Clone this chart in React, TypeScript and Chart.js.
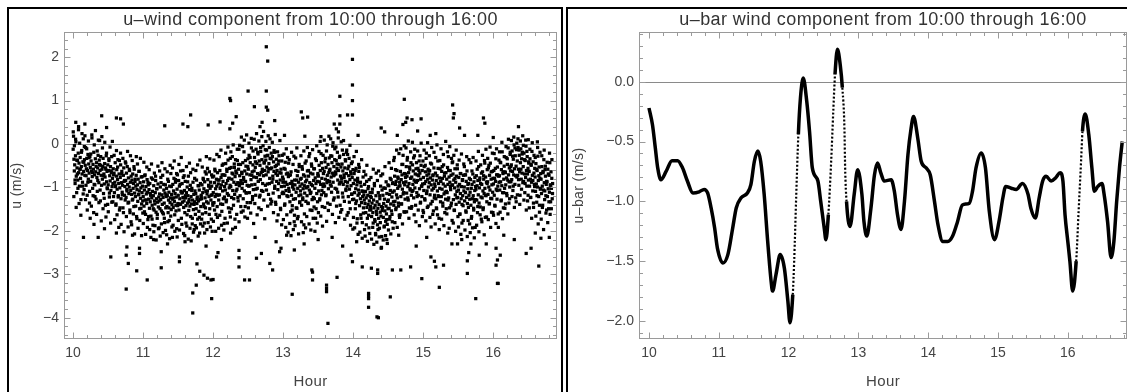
import React, { useEffect, useRef } from "react";
import { Chart, registerables } from "chart.js";

Chart.register(...registerables);

const FONT = '"Liberation Sans", Arial, Helvetica, sans-serif';

// ---------------- data: u-wind samples (m/s), evenly spaced within each block ----------------
const SEG_START = [10, 11, 12, 13, 14, 15, 16];
const SEG_END = [11, 12, 13, 14, 15, 16, 16.85];

// first pass of samples
const u10 = [
  -0.12, 0.18, -0.35, -0.62, -0.48, -0.91, -0.27, 0.05, -0.74, -1.12, -0.55, -0.38, -0.83, -0.21, -0.66,
  -0.44, -0.97, -0.58, -0.31, -0.79, -1.28, -0.52, -0.15, -0.69, -0.88, -0.41, 0.12, -0.63, -1.05, -0.36,
  -0.72, -0.49, -0.08, -0.95, -0.57, -0.33, -1.18, -0.61, -0.24, -0.81, -0.46, -0.67, -1.36, -0.29, -0.54,
  -0.86, -0.39, -0.62, 0.21, -0.75, -1.02, -0.47, -0.58, -0.19, -0.93, -0.71, -1.21, -0.34, -0.64, -0.52,
  -0.43, -0.77, -1.09, -0.55, -0.26, -0.68, -0.89, -0.37, 0.08, -0.61, -1.31, -0.49, -0.72, -0.95, -0.58,
  -0.81, -0.52, -0.33, -1.14, -0.69, -0.92, -0.45, -0.76, -1.41, -0.58, -0.27, -0.87, -0.63, -1.03, -0.48,
  -0.94, -0.61, -0.38, -1.22, -0.73, -0.85, -0.52, -1.07, -0.66, -0.29, -0.98, -0.79, -1.33, -0.57, -0.71,
  -0.67, -1.12, -0.88, -0.43, -0.96, -1.38, -0.74, -0.59, -1.04, -0.82, -0.36, -1.19, -0.91, -0.69, -1.52,
  -1.01, -0.77, -0.48, -1.26, -0.89, -0.63, -1.11, -0.95, -1.47, -0.72, -0.55, -0.86, -1.18, -0.98, -0.41,
  -0.84, -1.23, -0.67, -1.05, -0.52, -0.93, -1.36, -0.78, -1.14, -0.99, -0.61, -1.58, -0.88, -1.07, -0.74,
  -1.16, -0.83, -1.29, -0.69, -1.02, -0.91, -1.44, -0.58, -1.13, -0.86, -1.21, -0.97, -0.72, -1.67, -1.05,
  -0.94, -1.32, -0.81, -1.17, -0.63, -1.08, -1.49, -0.89, -1.25, -1.01, -0.76, -1.38, -1.12, -0.97, -1.59,
];
const u11 = [
  -1.21, -0.87, -1.43, -1.06, -0.73, -1.29, -1.62, -0.98, -1.15, -1.37, -0.82, -1.11, -1.74, -0.94, -1.27,
  -1.05, -1.48, -0.91, -1.33, -1.18, -1.66, -0.78, -1.24, -1.41, -1.09, -1.87, -1.19, -0.96, -1.52, -1.31,
  -1.38, -1.12, -0.84, -1.57, -1.26, -1.03, -1.71, -1.34, -0.92, -1.45, -1.22, -1.93, -1.15, -1.49, -0.99,
  -1.28, -0.89, -1.54, -1.17, -1.39, -0.72, -1.23, -1.61, -1.06, -1.36, -1.81, -1.13, -0.94, -1.47, -1.21,
  -1.02, -1.44, -1.19, -0.81, -1.58, -1.29, -1.11, -1.76, -0.97, -1.35, -1.24, -0.68, -1.51, -1.16, -1.39,
  -1.27, -0.93, -1.46, -1.08, -0.79, -1.32, -1.63, -1.14, -0.88, -1.41, -1.22, -1.95, -1.04, -0.71, -1.37,
  -1.18, -0.84, -1.52, -0.97, -1.26, -1.39, -0.62, -1.09, -1.71, -1.13, -0.91, -1.34, -1.23, -0.77, -1.46,
  -1.31, -1.07, -1.58, -0.86, -1.24, -1.42, -1.12, -1.89, -0.99, -1.36, -1.19, -0.74, -1.53, -1.28, -1.05,
  -1.43, -0.95, -1.67, -1.21, -1.38, -1.02, -1.84, -1.29, -0.88, -1.51, -1.16, -1.97, -1.33, -1.08, -1.62,
  -1.14, -1.49, -0.83, -1.37, -1.22, -1.73, -0.96, -1.31, -1.55, -1.06, -2.05, -1.27, -0.91, -1.44, -1.18,
  -1.26, -0.94, -1.61, -1.12, -0.79, -1.38, -1.03, -1.82, -0.87, -1.24, -1.47, -1.09, -0.69, -1.33, -1.15,
  -1.08, -0.82, -1.36, -0.95, -1.21, -0.64, -1.49, -1.02, -0.88, -1.29, -1.73, -0.97, -1.17, -0.76, -1.41,
];
const u12 = [
  -1.12, -0.74, -1.35, -0.89, -0.58, -1.21, -1.03, -1.62, -0.81, -0.97, -1.44, -0.66, -1.18, -0.92, -1.29,
  -0.83, -1.17, -0.61, -1.02, -1.38, -0.77, -0.94, -1.55, -0.49, -1.08, -0.86, -1.26, -0.71, -1.83, -0.98,
  -0.72, -1.06, -0.45, -0.91, -1.29, -0.63, -1.14, -0.84, -0.37, -1.47, -0.79, -1.01, -0.56, -0.95, -1.68,
  -0.98, -0.54, -1.23, -0.81, -0.29, -1.07, -0.69, -1.41, -0.88, -0.46, -1.16, -0.75, -1.92, -0.62, -0.93,
  -0.67, -1.04, -0.38, -0.89, -1.31, -0.58, -0.12, -0.96, -0.73, -1.19, -0.47, -0.84, -1.57, -0.65, -1.02,
  -0.91, -0.43, -1.26, -0.77, -0.18, -1.08, -0.62, -1.44, -0.86, -0.51, -1.13, -0.69, -0.95, -1.71, -0.34,
  -0.58, -0.97, -0.26, -1.12, -0.71, -0.43, -1.35, -0.82, -0.09, -0.94, -0.64, -1.21, -0.48, -1.05, -0.76,
  -0.62, -0.31, -0.93, -0.54, -1.18, -0.12, -0.77, -0.45, -1.02, -0.68, -0.23, -0.86, -1.47, -0.39, -0.71,
  -0.49, -0.82, -0.17, -0.66, -1.07, -0.36, -0.58, -0.91, -0.04, -0.73, -1.29, -0.42, -0.61, -0.28, -0.95,
  -0.37, -0.71, -0.14, -0.53, -0.92, -0.26, -0.64, -1.16, -0.45, -0.08, -0.79, -0.33, -0.57, -1.38, -0.21,
  -0.55, -0.88, -0.29, -0.74, -1.13, -0.41, -0.63, -0.19, -0.97, -0.52, -1.34, -0.68, -0.35, -0.86, -0.61,
  -0.72, -1.05, -0.46, -0.91, -0.27, -1.22, -0.66, -0.83, -1.51, -0.58, -0.98, -0.39, -1.14, -0.76, -0.88,
];
const u13 = [
  -0.81, -1.14, -0.56, -0.97, -1.38, -0.42, -0.88, -1.07, -0.69, -1.63, -0.93, -0.31, -1.21, -0.75, -1.02,
  -1.09, -0.72, -1.33, -0.91, -1.56, -0.64, -1.18, -0.86, -1.42, -0.99, -0.47, -1.27, -1.04, -1.79, -0.83,
  -0.94, -1.26, -0.61, -1.11, -0.83, -1.48, -0.73, -1.02, -1.67, -0.88, -1.19, -0.52, -1.35, -0.97, -1.08,
  -1.17, -0.79, -1.41, -0.92, -0.58, -1.24, -1.03, -0.71, -1.86, -0.96, -1.13, -0.44, -0.87, -1.32, -1.01,
  -0.83, -1.19, -0.62, -0.98, -1.37, -0.74, -0.29, -1.06, -0.89, -1.52, -0.67, -1.11, -0.93, -0.51, -1.28,
  -0.96, -0.69, -1.23, -0.84, -1.45, -0.57, -1.02, -0.78, -1.71, -0.91, -0.38, -1.14, -0.86, -1.33, -0.72,
  -0.74, -1.08, -0.49, -0.87, -1.26, -0.61, -0.93, -0.22, -1.17, -0.79, -1.44, -0.56, -0.98, -0.68, -1.12,
  -0.63, -0.97, -0.41, -0.81, -1.19, -0.54, -0.16, -0.89, -0.72, -1.36, -0.47, -1.03, -0.66, -0.32, -0.86,
  -0.58, -0.94, -0.27, -0.76, -1.11, -0.43, -0.67, -0.05, -0.88, -1.29, -0.52, -0.71, -0.36, -1.02, -0.64,
  -0.69, -0.38, -1.04, -0.56, -0.19, -0.83, -1.22, -0.61, -0.47, -0.92, -0.28, -1.41, -0.74, -0.53, -0.87,
  -0.79, -0.46, -1.13, -0.62, -0.93, -0.24, -0.71, -1.32, -0.55, -0.86, -0.39, -1.07, -0.68, -0.14, -0.97,
  -0.88, -0.57, -1.21, -0.73, -0.33, -1.04, -0.82, -1.49, -0.64, -0.96, -0.45, -1.15, -0.77, -1.28, -0.59,
];
const u14 = [
  -0.91, -1.27, -0.68, -1.12, -0.83, -1.49, -1.03, -0.56, -1.31, -0.94, -1.72, -0.79, -1.18, -1.06, -0.63,
  -1.14, -1.42, -0.89, -1.26, -1.63, -0.97, -1.35, -1.08, -1.81, -1.21, -0.76, -1.47, -1.17, -1.29, -0.93,
  -1.37, -1.09, -1.58, -1.24, -0.86, -1.46, -1.71, -1.18, -1.39, -0.98, -1.93, -1.31, -1.52, -1.12, -1.44,
  -1.51, -1.23, -1.67, -1.36, -1.04, -1.58, -1.82, -1.29, -1.47, -0.91, -1.74, -1.41, -2.06, -1.19, -1.55,
  -1.62, -1.33, -1.86, -1.48, -1.12, -1.71, -1.39, -1.94, -1.26, -1.57, -0.97, -1.66, -1.44, -2.13, -1.53,
  -1.46, -1.18, -1.69, -1.37, -1.91, -1.27, -1.54, -1.02, -1.78, -1.43, -1.61, -1.14, -1.85, -1.32, -1.49,
  -1.29, -0.96, -1.48, -1.16, -1.67, -1.07, -1.38, -0.82, -1.54, -1.22, -1.79, -1.11, -0.89, -1.33, -1.41,
  -1.08, -0.74, -1.32, -0.93, -1.51, -0.86, -1.17, -0.61, -1.24, -1.02, -0.79, -1.43, -0.97, -1.64, -0.88,
  -0.96, -0.63, -1.21, -0.82, -1.38, -0.71, -1.04, -0.47, -1.15, -0.89, -1.56, -0.68, -0.94, -1.27, -0.77,
  -0.87, -0.52, -1.13, -0.74, -0.31, -0.98, -1.29, -0.66, -0.91, -1.47, -0.58, -1.06, -0.79, -0.43, -1.18,
  -0.76, -1.09, -0.48, -0.93, -0.62, -1.24, -0.83, -0.27, -1.01, -0.69, -1.41, -0.57, -0.88, -1.12, -0.71,
  -0.84, -0.56, -1.18, -0.73, -0.39, -1.03, -0.67, -1.36, -0.81, -0.49, -0.97, -1.21, -0.61, -0.92, -1.53,
];
const u15 = [
  -0.77, -1.07, -0.52, -0.91, -1.29, -0.64, -0.86, -0.33, -1.14, -0.72, -1.46, -0.81, -0.58, -0.99, -0.69,
  -0.89, -0.61, -1.17, -0.78, -1.38, -0.94, -0.46, -1.06, -0.83, -1.62, -0.71, -1.02, -0.55, -1.24, -0.92,
  -0.98, -0.67, -1.26, -0.84, -1.49, -0.73, -1.08, -0.39, -1.19, -0.91, -1.71, -0.78, -1.02, -0.57, -1.33,
  -0.86, -1.21, -0.63, -1.04, -0.79, -1.43, -0.92, -0.48, -1.15, -0.74, -1.58, -0.97, -1.27, -0.66, -1.09,
  -0.81, -1.12, -0.54, -0.93, -0.29, -1.24, -0.76, -1.47, -0.88, -0.61, -1.05, -0.72, -1.36, -0.95, -0.43,
  -0.94, -0.69, -1.28, -0.83, -1.52, -1.01, -0.57, -1.17, -0.88, -1.39, -0.74, -1.09, -0.48, -1.23, -0.97,
  -1.06, -0.77, -1.34, -0.93, -1.61, -1.14, -0.68, -1.26, -0.98, -1.82, -0.84, -1.19, -1.42, -0.72, -1.08,
  -0.99, -1.31, -0.71, -1.12, -1.54, -0.86, -1.23, -0.62, -1.37, -1.03, -1.76, -0.91, -1.18, -0.79, -1.27,
  -1.11, -0.82, -1.41, -1.02, -1.67, -0.93, -1.26, -0.69, -1.19, -1.48, -0.87, -1.33, -1.07, -1.92, -0.98,
  -1.04, -0.73, -1.29, -0.96, -1.58, -0.84, -1.17, -0.52, -1.36, -1.01, -0.78, -1.45, -0.91, -1.22, -0.67,
  -0.93, -1.24, -0.64, -1.08, -1.47, -0.81, -1.14, -0.38, -1.02, -1.69, -0.76, -1.19, -0.88, -1.33, -0.59,
  -0.87, -1.16, -0.55, -0.99, -1.38, -0.72, -1.06, -0.44, -1.25, -0.81, -1.57, -0.94, -0.63, -1.11, -0.79,
];
const u16 = [
  -0.92, -0.61, -1.18, -0.79, -1.43, -0.86, -0.34, -1.04, -0.71, -1.27, -0.53, -0.97, -1.61, -0.74, -0.88,
  -0.73, -1.06, -0.42, -0.87, -1.31, -0.59, -0.96, -0.18, -1.12, -0.68, -1.47, -0.81, -0.51, -1.02, -0.64,
  -0.66, -0.94, -0.31, -0.78, -1.19, -0.47, -0.83, -0.09, -0.71, -1.36, -0.55, -0.99, -0.24, -0.62, -0.87,
  -0.48, -0.82, -0.16, -0.63, -1.07, -0.35, -0.71, -0.02, -0.57, -0.93, -0.27, -1.24, -0.51, -0.13, -0.76,
  -0.39, -0.72, -0.08, -0.58, -0.95, -0.26, -0.64, -1.18, -0.43, -0.11, -0.81, -0.34, -0.67, -0.19, -0.89,
  -0.52, -0.86, -0.21, -0.69, -1.12, -0.38, -0.77, -0.05, -0.61, -0.97, -0.29, -1.31, -0.56, -0.83, -0.44,
  -0.63, -0.97, -0.34, -0.81, -1.23, -0.49, -0.88, -0.17, -0.72, -1.08, -0.41, -1.46, -0.67, -0.93, -0.56,
  -0.76, -1.09, -0.45, -0.92, -1.34, -0.61, -0.99, -0.28, -0.84, -1.21, -0.53, -1.57, -0.79, -1.04, -0.68,
  -0.81, -1.14, -0.52, -0.97, -1.41, -0.66, -1.06, -0.36, -0.89, -1.28, -0.59, -0.74, -1.19, -0.93, -1.52,
  -0.87, -1.21, -0.58, -1.03, -1.49, -0.72, -1.11, -0.43, -0.95, -1.33, -0.64, -1.02, -0.79, -1.26, -0.91,
];

// second pass of samples (wider spread)
const v10 = [
  0.28, -1.21, -0.04, -0.83, 0.11, -1.46, -0.37, -0.69, -1.02, 0.33,
  -1.37, 0.02, -0.58, -1.64, -0.19, 0.24, -0.97, -1.15, -0.42, -0.06,
  0.19, -1.28, -0.73, -0.11, -1.52, -0.88, 0.07, -0.31, -1.09, -1.71,
  -0.23, -1.43, 0.14, -0.66, -1.19, -1.58, -0.02, -0.94, 0.31, -1.27,
  -1.62, -0.16, -0.84, 0.09, -1.35, -0.47, -1.06, -0.29, -1.77, 0.17,
  -0.09, -1.49, -0.73, -1.25, 0.04, -0.55, -1.68, -0.21, -1.01, -1.39,
  -1.56, -0.34, -1.13, -0.07, -1.82, -0.62, -1.34, 0.06, -0.91, -1.21,
  -0.26, -1.74, -0.98, -1.41, -0.15, -1.63, -0.53, -1.22, -1.92, -0.38,
  -1.47, -0.21, -1.85, -0.69, -1.17, -0.33, -1.58, -2.02, -0.84, -1.29,
  -0.44, -1.67, -1.08, -0.17, -1.91, -1.34, -0.58, -1.52, -0.27, -1.79,
  -1.86, -0.38, -1.27, -1.61, -0.52, -2.07, -0.81, -1.43, -0.29, -1.72,
  -0.46, -1.94, -1.16, -0.63, -1.76, -0.33, -1.48, -2.11, -0.75, -1.31,
];
const v11 = [
  -1.83, -0.42, -1.56, -0.71, -2.08, -1.29, -0.53, -1.92, -0.88, -1.67,
  -0.59, -1.97, -1.14, -2.15, -0.46, -1.73, -0.81, -1.49, -2.02, -0.67,
  -1.88, -0.74, -2.21, -1.03, -1.62, -0.51, -1.95, -1.31, -0.62, -2.12,
  -0.77, -1.84, -0.43, -1.58, -2.04, -0.93, -1.71, -0.57, -1.99, -1.17,
  -2.09, -0.64, -1.79, -0.86, -1.47, -2.18, -0.49, -1.66, -0.98, -1.91,
  -0.55, -1.87, -1.24, -0.39, -2.01, -0.82, -1.54, -0.68, -2.14, -1.42,
  -1.76, -0.47, -1.98, -0.93, -1.38, -0.31, -1.85, -1.11, -0.61, -2.06,
  -0.73, -2.11, -1.19, -1.82, -0.52, -1.63, -0.87, -2.19, -1.33, -0.44,
  -1.94, -0.66, -2.23, -1.07, -1.71, -0.58, -2.03, -1.39, -0.79, -1.88,
  -0.61, -1.93, -1.27, -0.48, -2.12, -0.96, -1.69, -0.37, -1.84, -1.21,
  -1.73, -0.53, -1.89, -0.82, -1.44, -2.05, -0.64, -1.58, -0.29, -1.97,
  -0.56, -1.81, -0.97, -1.62, -0.34, -1.91, -1.18, -0.71, -2.01, -1.36,
];
const v12 = [
  -1.78, -0.37, -1.52, -0.62, -2.01, -1.16, -0.24, -1.69, -0.83, -1.94,
  -0.29, -1.64, -1.01, -0.14, -1.87, -0.71, -1.39, -0.46, -1.98, -1.22,
  -1.71, -0.21, -1.33, -0.58, -1.82, -0.07, -1.18, -0.79, -1.57, -0.33,
  -0.18, -1.49, -0.67, -1.96, -0.02, -1.26, -0.54, -1.73, -0.36, -1.08,
  -1.62, -0.12, -1.23, -0.47, -1.79, -0.03, -0.91, -1.44, 0.16, -0.68,
  -0.06, -1.54, -0.83, 0.09, -1.68, -0.38, -1.12, 0.21, -1.35, -0.52,
  -1.47, 0.02, -0.96, -0.31, -1.59, 0.13, -0.72, -1.28, -0.16, -1.83,
  0.11, -1.37, -0.41, -1.04, 0.24, -1.63, -0.19, -0.86, 0.07, -1.22,
  -1.18, -0.08, -1.51, 0.17, -0.63, -1.09, 0.29, -0.44, -1.72, -0.13,
  0.06, -1.06, -0.27, -1.43, 0.19, -0.57, -0.91, 0.12, -1.27, -0.34,
  -1.32, 0.04, -0.81, -1.58, -0.15, -1.02, 0.22, -1.39, -0.49, -1.77,
  -0.18, -1.63, -0.39, -1.21, 0.08, -1.48, -0.67, -1.86, -0.26, -1.11,
];
const v13 = [
  -1.74, -0.23, -1.41, -0.58, -1.92, -0.11, -1.19, -0.67, -2.03, -0.44,
  -0.36, -1.83, -0.71, -2.11, -0.19, -1.52, -0.93, -1.97, -0.28, -1.64,
  -1.88, -0.32, -1.47, -0.09, -1.72, -0.63, -2.07, -0.47, -1.33, -0.81,
  -0.27, -1.79, -0.52, -1.28, -2.04, -0.16, -1.61, -0.74, -1.93, -0.39,
  -1.67, -0.08, -1.36, -0.61, -1.84, -0.22, -1.14, -1.98, -0.46, -1.53,
  -0.13, -1.71, -0.57, -1.26, -2.01, -0.34, -1.49, -0.04, -1.82, -0.68,
  -1.58, -0.17, -1.29, 0.06, -1.66, -0.43, -1.07, -1.89, -0.26, -0.92,
  0.09, -1.46, -0.33, -1.17, -1.78, -0.02, -0.84, -1.53, 0.18, -0.61,
  -1.39, 0.12, -0.97, -0.28, -1.62, 0.03, -0.73, -1.24, -0.11, -1.81,
  -0.07, -1.43, -0.46, -1.11, 0.14, -1.69, -0.31, -0.89, -1.57, 0.05,
  -1.51, -0.14, -1.22, 0.08, -0.77, -1.73, -0.36, -1.04, -0.19, -1.64,
  -0.24, -1.58, -0.51, -1.34, -0.03, -1.87, -0.69, -1.16, -0.41, -1.96,
];
const v14 = [
  -1.69, -0.29, -1.93, -0.61, -1.37, -0.17, -1.82, -0.86, -2.08, -0.47,
  -0.54, -2.03, -0.88, -1.71, -0.36, -2.17, -1.09, -1.59, -0.63, -1.97,
  -2.12, -0.71, -1.86, -0.49, -2.24, -1.03, -1.64, -0.82, -2.06, -1.21,
  -0.77, -2.19, -1.12, -1.92, -0.58, -2.31, -0.96, -1.78, -2.09, -0.67,
  -2.26, -0.84, -1.97, -0.62, -2.14, -1.19, -1.81, -0.73, -2.38, -1.06,
  -0.69, -2.21, -1.01, -1.89, -0.52, -2.11, -0.87, -1.74, -2.29, -0.94,
  -1.98, -0.43, -1.73, -0.79, -2.07, -0.56, -1.62, -0.91, -1.94, -0.38,
  -0.31, -1.81, -0.59, -1.47, -0.14, -1.92, -0.76, -1.36, -0.22, -1.69,
  -1.63, -0.11, -1.38, -0.47, -1.84, -0.26, -1.12, -0.04, -1.57, -0.69,
  -0.09, -1.56, -0.37, -1.24, 0.07, -1.71, -0.53, -1.03, -0.18, -1.48,
  -1.44, 0.04, -1.07, -0.32, -1.63, -0.12, -0.86, -1.79, -0.43, -1.21,
  -0.16, -1.52, -0.61, -1.88, -0.27, -1.34, 0.02, -0.97, -1.67, -0.39,
];
const v15 = [
  -1.58, -0.14, -1.26, -0.49, -1.77, -0.21, -1.08, 0.03, -1.43, -0.62,
  -0.27, -1.69, -0.44, -1.91, -0.08, -1.32, -0.73, -1.54, -0.19, -1.18,
  -1.84, -0.31, -1.47, -0.02, -1.63, -0.56, -1.21, -1.97, -0.38, -0.86,
  -0.11, -1.73, -0.52, -1.36, -0.24, -1.88, -0.67, -1.11, 0.06, -1.49,
  -1.61, -0.18, -1.29, -0.61, -1.94, -0.06, -0.98, -1.42, -0.33, -1.76,
  -0.41, -1.82, -0.26, -1.53, -0.79, -2.01, -0.14, -1.24, -0.57, -1.67,
  -1.91, -0.37, -1.62, -0.68, -2.08, -0.23, -1.39, -0.82, -1.76, -0.46,
  -0.52, -1.98, -0.71, -1.57, -0.29, -2.13, -0.93, -1.46, -0.36, -1.84,
  -2.04, -0.43, -1.71, -0.62, -1.93, -0.31, -1.52, -2.16, -0.77, -1.28,
  -0.39, -1.87, -0.58, -1.44, -0.17, -2.02, -0.83, -1.63, -0.48, -1.73,
  -1.79, -0.26, -1.51, -0.73, -2.09, -0.44, -1.18, -0.12, -1.68, -0.91,
  -0.33, -1.74, -0.49, -1.37, -0.07, -1.92, -0.64, -1.26, -0.21, -1.58,
];
const v16 = [
  -1.64, -0.22, -1.41, -0.56, -1.83, -0.11, -1.07, -0.71, -1.92, -0.37,
  -0.18, -1.57, -0.43, -1.29, 0.04, -1.72, -0.64, -1.12, -0.29, -1.48,
  -1.38, -0.06, -1.14, -0.34, -1.61, 0.11, -0.87, -1.26, -0.19, -0.52,
  0.08, -1.21, -0.28, -0.97, 0.16, -1.46, -0.09, -0.73, -1.33, 0.02,
  -1.17, 0.12, -0.82, -0.14, -1.39, 0.07, -0.58, -1.04, -0.23, 0.19,
  -0.03, -1.29, -0.36, -0.91, 0.09, -1.52, -0.17, -0.69, -1.18, -0.41,
  -1.47, -0.12, -1.23, -0.47, -1.71, 0.03, -0.84, -1.36, -0.26, -0.98,
  -0.31, -1.66, -0.58, -1.19, -0.08, -1.84, -0.73, -1.41, -0.19, -1.02,
  -1.73, -0.27, -1.46, -0.63, -1.97, -0.14, -1.08, -0.51, -1.59, -0.86,
  -0.42, -1.81, -0.69, -1.33, -0.21, -1.62, -0.94, -1.49, -0.36, -1.14,
];
const U_BLOCKS = [u10, u11, u12, u13, u14, u15, u16];
const V_BLOCKS = [v10, v11, v12, v13, v14, v15, v16];

// isolated samples (above zero / far below the band), read individually
const outlierHour = [
  10.04, 10.08, 10.17, 10.41, 10.48, 10.62, 10.68, 10.72, 11.31, 11.57, 11.64, 11.68, 11.93, 12.10, 12.24,
  12.25, 12.24, 12.28, 12.33, 12.50, 12.59, 12.67, 12.70, 12.76, 12.78, 12.76, 12.76, 12.78, 12.88, 13.02,
  13.26, 13.28, 13.35, 13.31, 13.54, 13.73, 13.76, 13.79, 13.81, 13.81, 13.81, 13.92, 13.99, 13.99, 13.99,
  13.99, 14.07, 14.40, 14.45, 14.63, 14.71, 14.75, 14.73, 14.77, 14.84, 14.97, 14.92, 15.10, 15.18, 15.42,
  15.44, 15.43, 15.52, 15.59, 15.86, 15.88, 15.78, 16.00, 16.36, 16.50, 16.63,
  10.15, 10.36, 10.54, 10.76, 10.76, 10.77, 10.79, 10.91, 10.95, 10.95, 11.06, 11.26, 11.26, 11.52, 11.52,
  11.71, 11.71, 11.76, 11.77, 11.81, 11.87, 11.92, 11.97, 12.00, 11.98, 12.05, 12.07, 12.37, 12.37, 12.37,
  12.45, 12.52, 12.62, 12.69, 12.81, 12.85, 12.95, 12.97, 13.13, 13.16, 13.41, 13.42, 13.42, 13.62, 13.62,
  13.62, 13.64, 13.77, 13.97, 13.99, 14.13, 14.26, 14.22, 14.22, 14.22, 14.22, 14.34, 14.36, 14.35, 14.35,
  14.53, 14.56, 14.68, 14.82, 14.98, 15.11, 15.18, 15.16, 15.23, 15.29, 15.41, 15.49, 15.63, 15.63, 15.65,
  15.68, 15.75, 15.80, 16.04, 16.06, 16.06, 16.07, 16.04, 16.10, 16.47, 16.54, 16.65, 16.68,
  10.30, 10.45, 10.62, 10.85, 11.15, 11.35, 11.42, 11.60, 11.90, 12.12, 12.25, 12.60, 12.90, 13.05, 13.30,
  13.50, 13.70, 13.85, 14.05, 14.40, 14.48, 14.65, 14.90, 15.05, 15.35, 15.55, 15.90, 16.15, 16.30, 16.60,
  16.80,
];
const outlierU = [
  0.50, 0.40, 0.46, 0.65, 0.38, 0.60, 0.58, 0.46, 0.42, 0.46, 0.40, 0.67, 0.44, 0.51, 1.05,
  1.00, 0.35, 0.48, 0.63, 1.22, 0.86, 0.40, 0.50, 2.24, 1.91, 1.22, 0.85, 0.78, 0.54, 0.20,
  0.74, 0.60, 0.62, 0.18, 0.17, 0.46, 0.35, 0.28, 0.46, 1.10, 0.65, 0.67, 0.67, 1.00, 1.36,
  1.95, 0.20, 0.37, 0.28, 0.20, 0.45, 0.50, 1.03, 0.60, 0.56, 0.58, 0.30, 0.20, 0.24, 0.90,
  0.70, 0.60, 0.37, 0.20, 0.60, 0.48, 0.20, 0.15, 0.40, 0.10, 0.05,
  -2.15, -2.15, -2.60, -3.34, -2.56, -2.37, -2.75, -2.92, -2.40, -2.52, -3.13, -2.85, -2.48, -2.60, -2.71,
  -3.43, -3.89, -3.25, -2.76, -2.93, -3.02, -3.09, -3.13, -3.12, -3.56, -2.60, -2.50, -2.45, -2.62, -2.83,
  -3.13, -3.13, -2.63, -2.52, -2.75, -2.90, -2.48, -2.40, -3.46, -2.44, -2.90, -2.95, -3.13, -3.25, -3.33,
  -3.40, -4.13, -3.07, -2.56, -2.71, -2.83, -2.86, -3.44, -3.50, -3.56, -3.76, -3.98, -4.00, -2.90, -2.98,
  -3.52, -2.90, -2.90, -2.83, -3.10, -2.60, -2.83, -2.70, -3.30, -2.79, -2.30, -2.30, -2.98, -2.69, -2.50,
  -2.30, -3.56, -2.56, -2.79, -2.67, -3.21, -3.21, -2.40, -2.56, -2.52, -2.40, -2.81, -2.17,
  -1.85, -1.95, -2.05, -2.10, -2.20, -2.30, -2.15, -2.25, -2.35, -2.20, -2.05, -2.15, -2.25, -2.10, -2.30,
  -2.20, -2.15, -2.35, -2.25, -2.40, -2.20, -2.10, -2.35, -2.15, -2.05, -2.20, -2.30, -2.10, -2.20, -2.05,
  -2.15,
];

// ---------------- data: u-bar (running mean) curve ----------------
const ubarHour = [
  10.0, 10.05, 10.09, 10.125, 10.17, 10.245, 10.33, 10.41, 10.48, 10.55, 10.63, 10.72, 10.79, 10.84, 10.89,
  10.94, 10.98, 11.06, 11.13, 11.2, 11.25, 11.32, 11.41, 11.46, 11.51, 11.56, 11.6, 11.65, 11.7, 11.75,
  11.77, 11.82, 11.88, 11.94, 11.99, 12.02, 12.06, 12.08, 12.11, 12.14, 12.17, 12.21, 12.26, 12.3, 12.34,
  12.42, 12.46, 12.51, 12.535, 12.57, 12.61, 12.64, 12.665, 12.7, 12.74, 12.77, 12.8, 12.81, 12.83, 12.88,
  12.94, 12.99, 13.05, 13.08, 13.12, 13.18, 13.23, 13.275, 13.32, 13.37, 13.47, 13.515, 13.56, 13.61, 13.66,
  13.71, 13.755, 13.79, 13.85, 13.9, 13.97, 14.03, 14.09, 14.14, 14.21, 14.28, 14.35, 14.42, 14.49, 14.59,
  14.635, 14.685, 14.76, 14.82, 14.875, 14.95, 15.02, 15.07, 15.11, 15.19, 15.26, 15.35, 15.43, 15.47, 15.535,
  15.59, 15.64, 15.69, 15.76, 15.83, 15.89, 15.93, 15.96, 16.0, 16.03, 16.07, 16.12, 16.155, 16.19, 16.21,
  16.25, 16.3, 16.345, 16.38, 16.43, 16.49, 16.52, 16.57, 16.62, 16.66, 16.7, 16.74, 16.78,
];
const ubarU = [
  -0.22, -0.36, -0.55, -0.72, -0.82, -0.75, -0.66, -0.66, -0.72, -0.83, -0.93, -0.92, -0.9, -0.93, -1.055,
  -1.22, -1.39, -1.515, -1.445, -1.22, -1.055, -0.97, -0.93, -0.86, -0.665, -0.58, -0.665, -0.94, -1.33, -1.67,
  -1.75, -1.61, -1.445, -1.56, -1.835, -2.015, -1.78, -1.5, -0.94, -0.44, -0.136, 0.03, -0.164, -0.415, -0.72,
  -0.83, -1.0, -1.22, -1.32, -1.11, -0.665, -0.25, 0.06, 0.27, 0.14, -0.05, -0.39, -0.72, -1.0, -1.21,
  -0.94, -0.735, -0.94, -1.17, -1.29, -1.055, -0.78, -0.68, -0.76, -0.83, -0.82, -0.915, -1.11, -1.235, -1.0,
  -0.61, -0.39, -0.29, -0.47, -0.665, -0.72, -0.78, -1.0, -1.195, -1.335, -1.335, -1.29, -1.17, -1.03, -1.015,
  -0.915, -0.72, -0.595, -0.72, -1.08, -1.32, -1.15, -0.97, -0.875, -0.89, -0.9, -0.85, -0.94, -1.055, -1.14,
  -0.97, -0.83, -0.79, -0.83, -0.8, -0.76, -0.83, -1.11, -1.335, -1.5, -1.75, -1.5, -1.08, -0.665, -0.415,
  -0.27, -0.44, -0.72, -0.915, -0.875, -0.85, -0.94, -1.17, -1.47, -1.335, -1.0, -0.72, -0.5,
];

// ---------------- axes / labels ----------------
const HOUR_TICKS = [10, 11, 12, 13, 14, 15, 16];
const U_TICKS = [-4, -3, -2, -1, 0, 1, 2];
const UBAR_TICKS = [-2, -1.5, -1, -0.5, 0];

const LEFT_TITLE = "u\u2013wind component from 10:00 through 16:00";
const RIGHT_TITLE = "u\u2013bar wind component from 10:00 through 16:00";
const X_LABEL = "Hour";
const LEFT_Y_LABEL = "u (m/s)";
const RIGHT_Y_LABEL = "u\u2013bar (m/s)";

const fmtInt = (v: number) => (v < 0 ? "\u2212" + Math.abs(v) : String(v));
const fmtOne = (v: number) => (v < 0 ? "\u2212" + Math.abs(v).toFixed(1) : v.toFixed(1));

// ---------------- Mathematica-like frame plugin ----------------
const framePlugin = {
  id: "mmaFrame",
  beforeDatasetsDraw(chart: any) {
    const { ctx, chartArea: a, scales } = chart;
    const py = Math.round(scales.y.getPixelForValue(0)) + 0.5;
    ctx.save();
    ctx.strokeStyle = "#8a8a8a";
    ctx.lineWidth = 1;
    ctx.beginPath();
    ctx.moveTo(a.left, py);
    ctx.lineTo(a.right, py);
    ctx.stroke();
    ctx.restore();
  },
  afterDraw(chart: any, _a: any, opts: any) {
    const { ctx, chartArea: a, scales } = chart;
    const x = scales.x;
    const y = scales.y;
    const L = Math.round(a.left) + 0.5;
    const R = Math.round(a.right) - 0.5;
    const T = Math.round(a.top) + 0.5;
    const B = Math.round(a.bottom) - 0.5;
    ctx.save();
    ctx.strokeStyle = "#9a9a9a";
    ctx.lineWidth = 1;
    ctx.strokeRect(L, T, R - L, B - T);
    ctx.beginPath();
    const marks = (min: number, max: number, majors: number[], step: number) => {
      const out: [number, number][] = [];
      const n0 = Math.ceil(min / step - 1e-6);
      const n1 = Math.floor(max / step + 1e-6);
      for (let n = n0; n <= n1; n++) {
        const v = n * step;
        const isMajor = majors.some((m) => Math.abs(m - v) < 1e-6);
        out.push([v, isMajor ? 6 : 3.5]);
      }
      return out;
    };
    for (const [v, len] of marks(x.min, x.max, opts.xMajor, opts.xMinor)) {
      const px = Math.round(x.getPixelForValue(v)) + 0.5;
      if (px < L || px > R) continue;
      ctx.moveTo(px, B);
      ctx.lineTo(px, B - len);
      ctx.moveTo(px, T);
      ctx.lineTo(px, T + len);
    }
    for (const [v, len] of marks(y.min, y.max, opts.yMajor, opts.yMinor)) {
      const py = Math.round(y.getPixelForValue(v)) + 0.5;
      if (py < T || py > B) continue;
      ctx.moveTo(L, py);
      ctx.lineTo(L + len, py);
      ctx.moveTo(R, py);
      ctx.lineTo(R - len, py);
    }
    ctx.stroke();

    const cx = (a.left + a.right) / 2;
    const cy = (a.top + a.bottom) / 2;
    ctx.textAlign = "center";
    ctx.textBaseline = "middle";
    try {
      ctx.letterSpacing = "0.4px";
    } catch (e) {}
    ctx.fillStyle = "#333";
    ctx.font = `18px ${FONT}`;
    ctx.fillText(opts.title, cx, opts.titleY);
    ctx.fillStyle = "#444";
    ctx.font = `15px ${FONT}`;
    ctx.fillText(opts.xTitle, cx, opts.xTitleY);
    ctx.translate(opts.yTitleX, cy);
    ctx.rotate(-Math.PI / 2);
    ctx.font = `14px ${FONT}`;
    ctx.fillText(opts.yTitle, 0, 0);
    ctx.restore();
  },
};

function makeScales(xr: number[], yr: number[], yTicks: number[], yFmt: (v: number) => string, yWidth: number) {
  const tickFont = { family: FONT, size: 14 };
  return {
    x: {
      type: "linear",
      min: xr[0],
      max: xr[1],
      grid: { display: false, drawTicks: false },
      border: { display: false },
      afterBuildTicks: (s: any) => {
        s.ticks = HOUR_TICKS.map((v) => ({ value: v }));
      },
      afterFit: (s: any) => {
        s.height = 40;
      },
      ticks: { font: tickFont, color: "#444", padding: 6, maxRotation: 0, autoSkip: false, callback: (v: any) => String(v) },
    },
    y: {
      type: "linear",
      min: yr[0],
      max: yr[1],
      grid: { display: false, drawTicks: false },
      border: { display: false },
      afterBuildTicks: (s: any) => {
        s.ticks = yTicks.map((v) => ({ value: v }));
      },
      afterFit: (s: any) => {
        s.width = yWidth;
      },
      ticks: { font: tickFont, color: "#444", padding: 5, autoSkip: false, callback: (v: any) => yFmt(Number(v)) },
    },
  };
}

function blockPoints(blocks: number[][], pts: { x: number; y: number }[]) {
  blocks.forEach((block, b) => {
    const span = SEG_END[b] - SEG_START[b];
    block.forEach((v, i) => pts.push({ x: SEG_START[b] + ((i + 0.5) * span) / block.length, y: v }));
  });
}

function leftConfig(): any {
  const pts: { x: number; y: number }[] = [];
  blockPoints(U_BLOCKS, pts);
  blockPoints(V_BLOCKS, pts);
  outlierHour.forEach((h, i) => pts.push({ x: h, y: outlierU[i] }));
  return {
    type: "scatter",
    data: {
      datasets: [
        {
          data: pts,
          pointStyle: "rect",
          pointRadius: 2.3,
          pointBorderWidth: 0,
          pointBackgroundColor: "#000",
          borderWidth: 0,
        },
      ],
    },
    plugins: [framePlugin],
    options: {
      responsive: false,
      animation: false,
      events: [],
      layout: { padding: { top: 23, right: 3, bottom: 13, left: 0 } },
      scales: makeScales([9.872, 16.91], [-4.49, 2.58], U_TICKS, fmtInt, 55),
      plugins: {
        legend: { display: false },
        tooltip: { enabled: false },
        mmaFrame: {
          title: LEFT_TITLE,
          xTitle: X_LABEL,
          yTitle: LEFT_Y_LABEL,
          titleY: 11,
          xTitleY: 373,
          yTitleX: 8,
          xMajor: HOUR_TICKS,
          xMinor: 0.2,
          yMajor: U_TICKS,
          yMinor: 0.2,
        },
      },
    },
  };
}

function rightConfig(): any {
  const pts = ubarHour.map((h, i) => ({ x: h, y: ubarU[i] }));
  const steep = (c: any) => {
    const dx = Math.abs(c.p1.x - c.p0.x);
    const dy = Math.abs(c.p1.y - c.p0.y);
    return dy / Math.max(dx, 0.01) > 17.5;
  };
  return {
    type: "scatter",
    data: {
      datasets: [
        {
          data: pts,
          showLine: true,
          pointRadius: 0,
          borderColor: "#000",
          borderWidth: 3.5,
          borderJoinStyle: "round",
          cubicInterpolationMode: "monotone",
          segment: {
            borderDash: (c: any) => (steep(c) ? [2, 2] : undefined),
            borderWidth: (c: any) => (steep(c) ? 2.2 : undefined),
          },
        },
      ],
    },
    plugins: [framePlugin],
    options: {
      responsive: false,
      animation: false,
      events: [],
      layout: { padding: { top: 23, right: 3, bottom: 13, left: 0 } },
      scales: makeScales([9.857, 16.848], [-2.15, 0.415], UBAR_TICKS, fmtOne, 71),
      plugins: {
        legend: { display: false },
        tooltip: { enabled: false },
        mmaFrame: {
          title: RIGHT_TITLE,
          xTitle: X_LABEL,
          yTitle: RIGHT_Y_LABEL,
          titleY: 11,
          xTitleY: 373,
          yTitleX: 11,
          xMajor: HOUR_TICKS,
          xMinor: 0.2,
          yMajor: UBAR_TICKS,
          yMinor: 0.1,
        },
      },
    },
  };
}

function ChartCanvas({ build, left, top, width, height }: any) {
  const ref = useRef<HTMLCanvasElement | null>(null);
  useEffect(() => {
    const chart = new Chart(ref.current as HTMLCanvasElement, build());
    return () => chart.destroy();
  }, []);
  return (
    <canvas
      ref={ref}
      width={width}
      height={height}
      style={{ position: "absolute", left, top, width, height, display: "block" }}
    />
  );
}

export default function App() {
  return (
    <div
      style={{
        position: "fixed",
        left: 0,
        top: 0,
        width: 1127,
        height: 392,
        overflow: "hidden",
        background: "#fff",
      }}
    >
      <div
        style={{
          position: "absolute",
          left: 7,
          top: 7,
          width: 556,
          height: 420,
          border: "2px solid #000",
          boxSizing: "border-box",
        }}
      />
      <div
        style={{
          position: "absolute",
          left: 566,
          top: 7,
          width: 600,
          height: 420,
          border: "2px solid #000",
          boxSizing: "border-box",
        }}
      />
      <ChartCanvas build={leftConfig} left={9} top={9} width={552} height={383} />
      <ChartCanvas build={rightConfig} left={568} top={9} width={562} height={383} />
    </div>
  );
}
